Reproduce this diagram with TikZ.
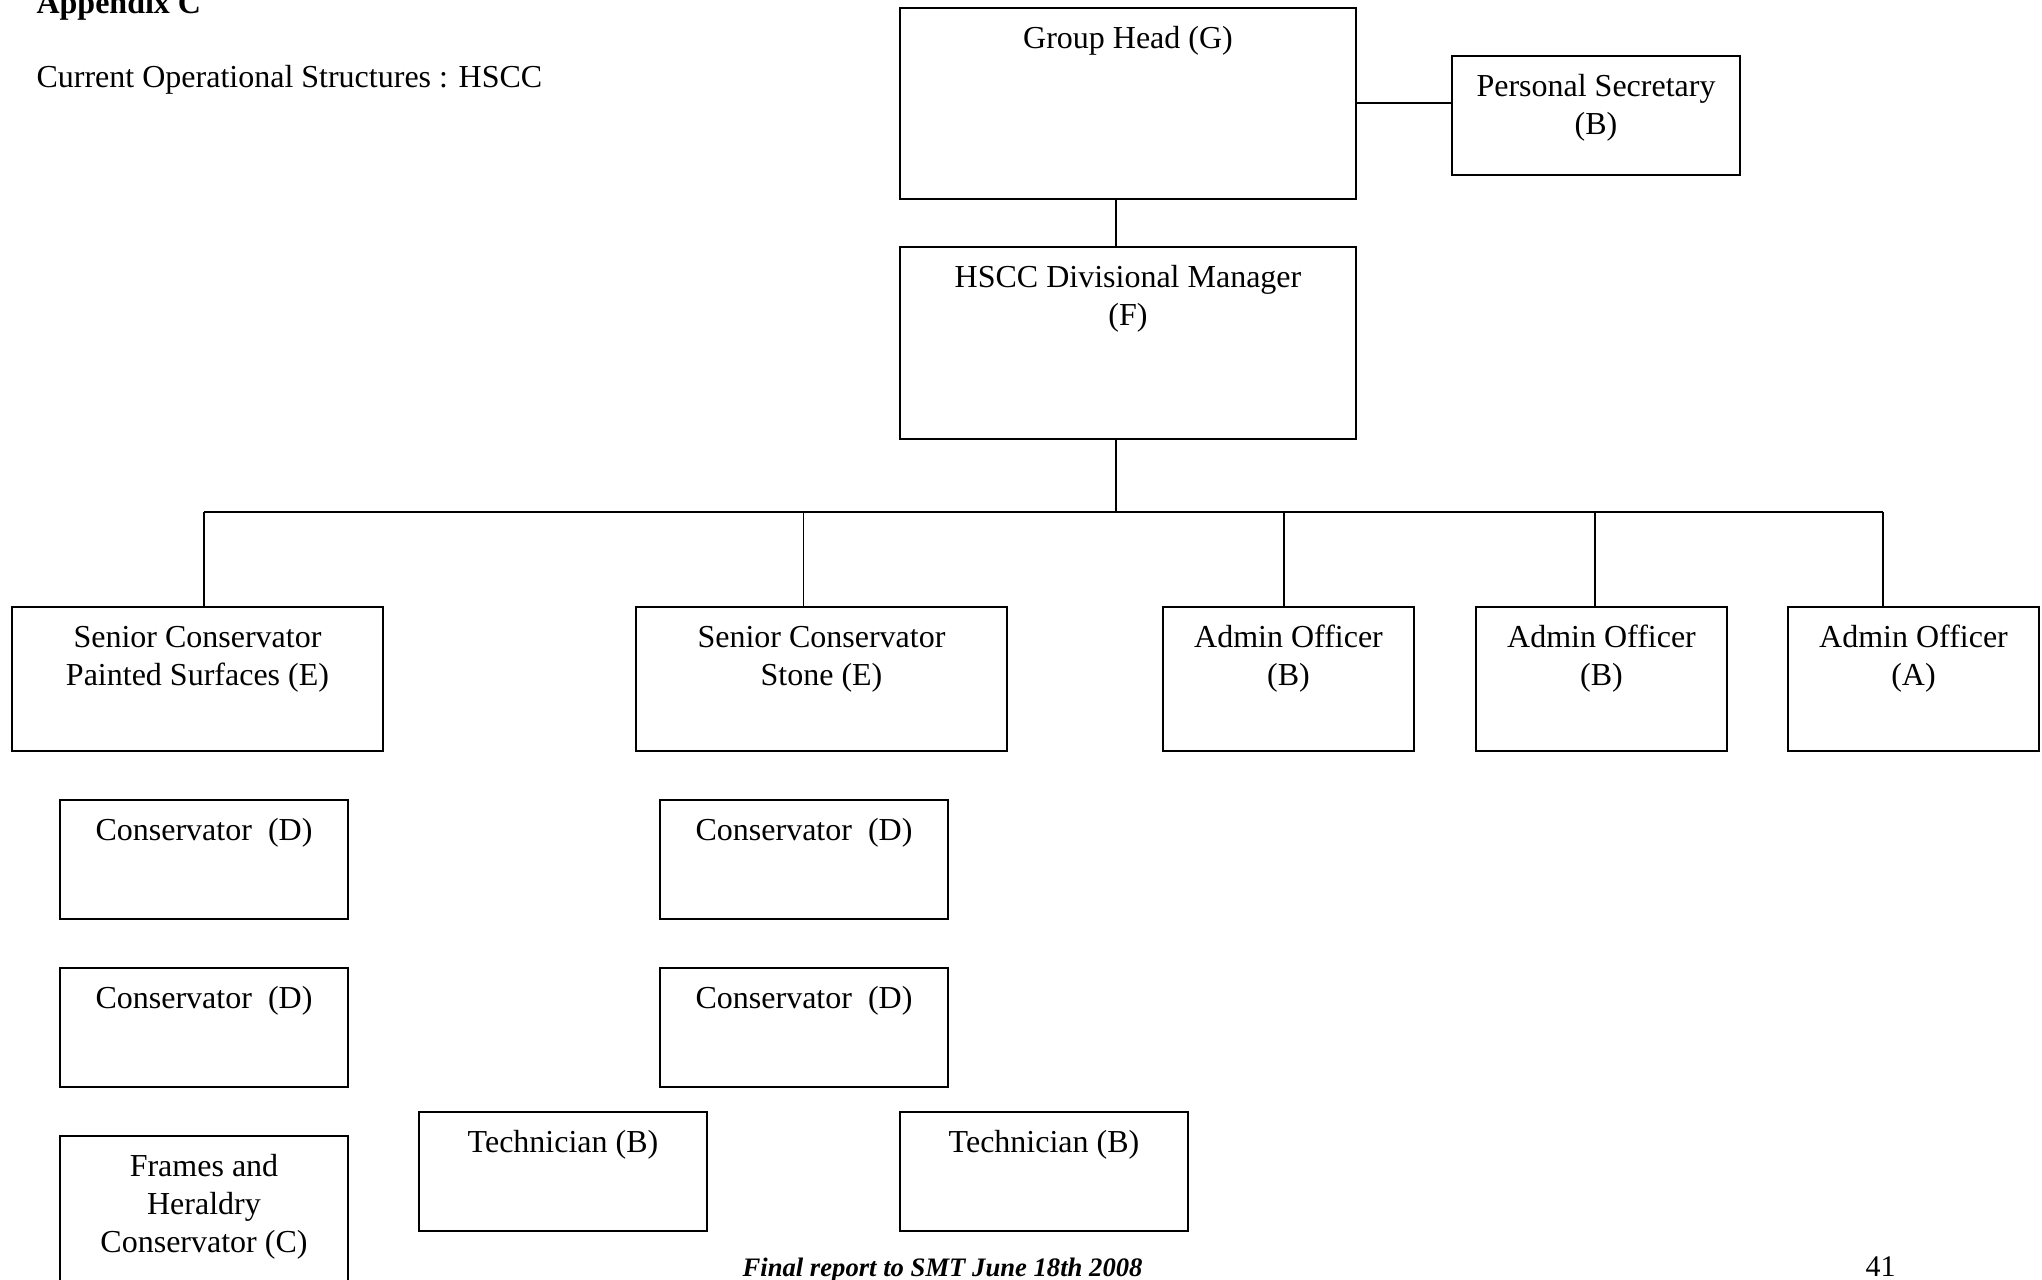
\documentclass[tikz,border=0pt]{standalone}
\usepackage{fontspec}
\setmainfont{Liberation Serif}
\usetikzlibrary{fit}
\tikzset{
  boxnode/.style={draw, line width=0.55pt, rectangle, inner sep=0pt},
  txt/.style={anchor=north, inner sep=0pt, align=center, font=\fontsize{11.2pt}{13.2pt}\selectfont},
  conn/.style={line width=0.45pt},
  plain/.style={inner sep=0pt, anchor=base west}
}
\newcommand{\boxtext}[2]{\node[txt] at ([yshift=-5.1pt]#1.north) {\strut #2};}
\begin{document}
\begin{tikzpicture}[x=0.35pt, y=-0.35pt]
\useasboundingbox (0,0) rectangle (2042,1279);
\clip (0,0) rectangle (2042,1279);
% header
\node[plain, font=\fontsize{11.2pt}{13.2pt}\selectfont\bfseries] (app) at (36,13) {Appendix C};
\node[plain, font=\fontsize{11.2pt}{13.2pt}\selectfont] (title) at (36,87.5) {Current Operational Structures : HSCC};
% boxes
\node[boxnode, fit={(900,8) (1356,199)}] (gh) {};
\node[boxnode, fit={(1452,56) (1740,175)}] (ps) {};
\node[boxnode, fit={(900,247) (1356,439)}] (dm) {};
\node[boxnode, fit={(12,607) (383,751)}] (sps) {};
\node[boxnode, fit={(636,607) (1007,751)}] (sst) {};
\node[boxnode, fit={(1163,607) (1414,751)}] (ab1) {};
\node[boxnode, fit={(1476,607) (1727,751)}] (ab2) {};
\node[boxnode, fit={(1788,607) (2039,751)}] (aa) {};
\node[boxnode, fit={(60,800) (348,919)}] (c1) {};
\node[boxnode, fit={(60,968) (348,1087)}] (c2) {};
\node[boxnode, fit={(660,800) (948,919)}] (c3) {};
\node[boxnode, fit={(660,968) (948,1087)}] (c4) {};
\node[boxnode, fit={(60,1136) (348,1300)}] (fh) {};
\node[boxnode, fit={(419,1112) (707,1231)}] (t1) {};
\node[boxnode, fit={(900,1112) (1188,1231)}] (t2) {};
% texts
\boxtext{gh}{Group Head (G)}
\boxtext{ps}{Personal Secretary\\(B)}
\boxtext{dm}{HSCC Divisional Manager\\(F)}
\boxtext{sps}{Senior Conservator\\Painted Surfaces (E)}
\boxtext{sst}{Senior Conservator\\Stone (E)}
\boxtext{ab1}{Admin Officer\\(B)}
\boxtext{ab2}{Admin Officer\\(B)}
\boxtext{aa}{Admin Officer\\(A)}
\boxtext{c1}{Conservator\ \ (D)}
\boxtext{c2}{Conservator\ \ (D)}
\boxtext{c3}{Conservator\ \ (D)}
\boxtext{c4}{Conservator\ \ (D)}
\boxtext{fh}{Frames and\\Heraldry\\Conservator (C)}
\boxtext{t1}{Technician (B)}
\boxtext{t2}{Technician (B)}
% connectors
\coordinate (trunk) at (1116,512);
\coordinate (b1) at (204,512);
\coordinate (b2) at (803.5,512);
\coordinate (b3) at (1284,512);
\coordinate (b4) at (1595,512);
\coordinate (b5) at (1883,512);
\coordinate (psy) at (1400,103);
\draw[conn] (gh.east |- psy) -- (ps.west |- psy);
\draw[conn] (gh.south -| trunk) -- (dm.north -| trunk);
\draw[conn] (dm.south -| trunk) -- (trunk);
\draw[conn] (b1) -- (b5);
\draw[conn] (b1) -- (b1 |- sps.north);
\draw[conn] (b2) -- (b2 |- sst.north);
\draw[conn] (b3) -- (b3 |- ab1.north);
\draw[conn] (b4) -- (b4 |- ab2.north);
\draw[conn] (b5) -- (b5 |- aa.north);
% footer
\node[plain, font=\fontsize{9.33pt}{11pt}\selectfont\bfseries\itshape] (foot) at (742,1276) {Final report to SMT June 18th 2008};
\node[plain, font=\fontsize{10.5pt}{12pt}\selectfont] (pg) at (1865,1276) {41};
\end{tikzpicture}
\end{document}
